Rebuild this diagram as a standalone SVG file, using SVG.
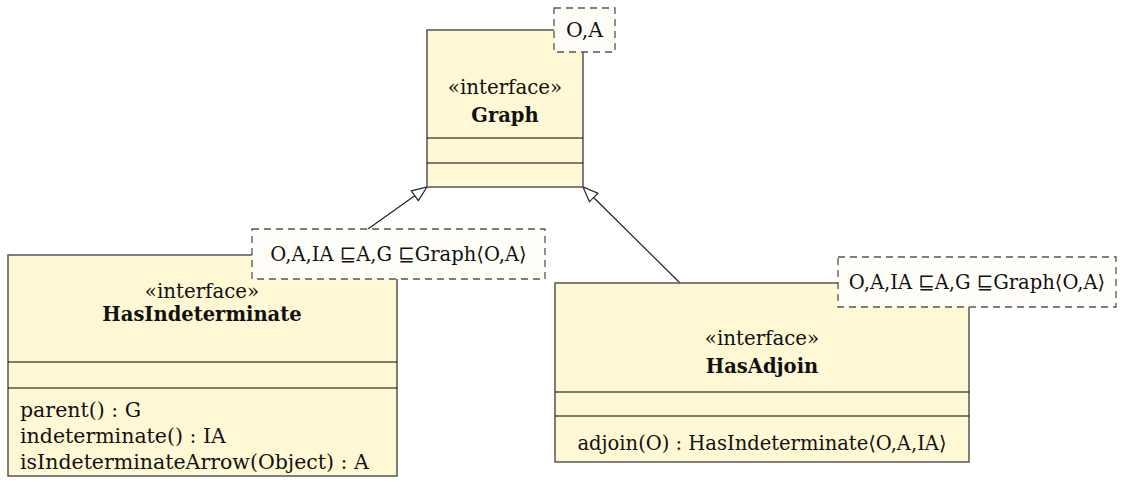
<svg xmlns="http://www.w3.org/2000/svg" width="1135" height="493" viewBox="0 0 1135 493">
<defs>
<style>
.cls{fill:#fff8d4;stroke:#555;stroke-width:1.5}
.div{stroke:#000;stroke-width:1.2}
.tpl{fill:#fffdf8;stroke:#555;stroke-width:1.3;stroke-dasharray:7,5}
text{font-family:"DejaVu Serif","Liberation Serif",serif;font-size:20.5px;fill:#111}
.c{text-anchor:middle}
.s{font-size:19.8px}
.t{font-size:19.5px}
.b{font-weight:bold;font-size:19.5px}
.conn{stroke:#222;stroke-width:1.2;fill:none}
</style>
<marker id="tri" markerUnits="userSpaceOnUse" markerWidth="18" markerHeight="16" refX="16" refY="7" orient="auto">
<path d="M1,1 L16,7 L1,13 Z" fill="#fff" stroke="#222" stroke-width="1.2"/>
</marker>
</defs>
<g id="connectors">
<line class="conn" x1="368" y1="229" x2="427" y2="187" marker-end="url(#tri)"/>
<line class="conn" x1="680" y1="283" x2="583" y2="187" marker-end="url(#tri)"/>
</g>
<g id="graph">
<rect class="cls" x="427" y="30" width="156" height="157"/>
<line class="div" x1="427" y1="138" x2="583" y2="138"/>
<line class="div" x1="427" y1="163" x2="583" y2="163"/>
<text class="c s" x="505" y="94">«interface»</text>
<text class="c b" x="505" y="122">Graph</text>
</g>
<g id="graph-template">
<rect class="tpl" x="554" y="8" width="61" height="44"/>
<text class="c" x="584.5" y="37">O,A</text>
</g>
<g id="hasIndeterminate">
<rect class="cls" x="8" y="255" width="389" height="221"/>
<line class="div" x1="8" y1="362" x2="397" y2="362"/>
<line class="div" x1="8" y1="388" x2="397" y2="388"/>
<text class="c s" x="202" y="298">«interface»</text>
<text class="c b" x="202" y="321">HasIndeterminate</text>
<text x="20" y="417">parent() : G</text>
<text x="20" y="443">indeterminate() : IA</text>
<text x="20" y="469">isIndeterminateArrow(Object) : A</text>
</g>
<g id="hasIndeterminate-template">
<rect class="tpl" x="252" y="229" width="293" height="50"/>
<text class="c t" x="398.5" y="261">O,A,IA ⊑A,G ⊑Graph⟨O,A⟩</text>
</g>
<g id="hasAdjoin">
<rect class="cls" x="555" y="283" width="414" height="179"/>
<line class="div" x1="555" y1="392" x2="969" y2="392"/>
<line class="div" x1="555" y1="416" x2="969" y2="416"/>
<text class="c s" x="762" y="345">«interface»</text>
<text class="c b" x="762" y="373">HasAdjoin</text>
<text class="c t" x="762" y="450">adjoin(O) : HasIndeterminate⟨O,A,IA⟩</text>
</g>
<g id="hasAdjoin-template">
<rect class="tpl" x="838" y="257" width="278" height="50"/>
<text class="c t" x="977" y="289">O,A,IA ⊑A,G ⊑Graph⟨O,A⟩</text>
</g>
</svg>
